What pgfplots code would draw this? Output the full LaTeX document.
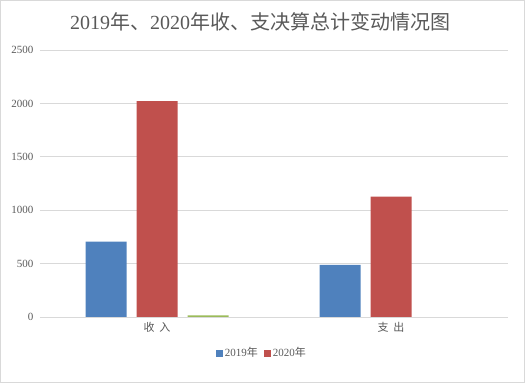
\documentclass[border=0pt]{standalone}
\usepackage{fontspec}
\setmainfont{Liberation Serif}
\newfontfamily\cjk{Noto Sans CJK SC}
\usepackage{pgfplots}
\pgfplotsset{compat=1.18}
\definecolor{cblue}{HTML}{4F81BD}
\definecolor{cred}{HTML}{C0504D}
\definecolor{cgreen}{HTML}{9BBB59}
\definecolor{cgrid}{HTML}{D9D9D9}
\definecolor{ctext}{HTML}{595959}
\begin{document}
\begin{tikzpicture}
\draw[cgrid, line width=1bp] (0.5bp,0.5bp) rectangle (524.5bp,382.5bp);
\node[text=ctext, font=\fontsize{20bp}{22bp}\selectfont] at (260bp,361bp) {2019{\cjk 年、}2020{\cjk 年收、支决算总计变动情况图}};
\begin{axis}[
  at={(40bp,66bp)}, anchor=south west,
  scale only axis, width=468bp, height=267bp,
  ybar=10bp, bar width=41bp,
  xmin=-0.5, xmax=1.5, ymin=0, ymax=2500,
  xtick={0,1}, xticklabels={{\cjk 收\hspace{0.45em}入},{\cjk 支\hspace{0.45em}出}},
  ytick={0,500,1000,1500,2000,2500},
  ymajorgrids, grid style={cgrid, line width=0.8bp},
  axis line style={draw=none},
  major tick length=0pt,
  tick label style={text=ctext, font=\fontsize{11bp}{13bp}\selectfont},
  /pgf/number format/assume math mode=true,
  /pgf/number format/1000 sep={},
  yticklabel style={xshift=-3bp},
  xticklabel style={yshift=-2bp},
  legend style={at={(0.474,-0.135)}, anchor=center, draw=none, fill=none,
    legend columns=2, font=\fontsize{11bp}{13bp}\selectfont, text=ctext,
    /tikz/every even column/.append style={column sep=4bp}},
  legend image code/.code={\fill[#1] (0bp,-3.5bp) rectangle (7bp,3.5bp);},
]
\addplot[fill=cblue, draw=none] coordinates {(0,705) (1,487)};
\addplot[fill=cred, draw=none] coordinates {(0,2022) (1,1126)};
\addplot[fill=cgreen, draw=none] coordinates {(0,16) (1,0)};
\legend{2019{\cjk 年},2020{\cjk 年}}
\end{axis}
\end{tikzpicture}
\end{document}
